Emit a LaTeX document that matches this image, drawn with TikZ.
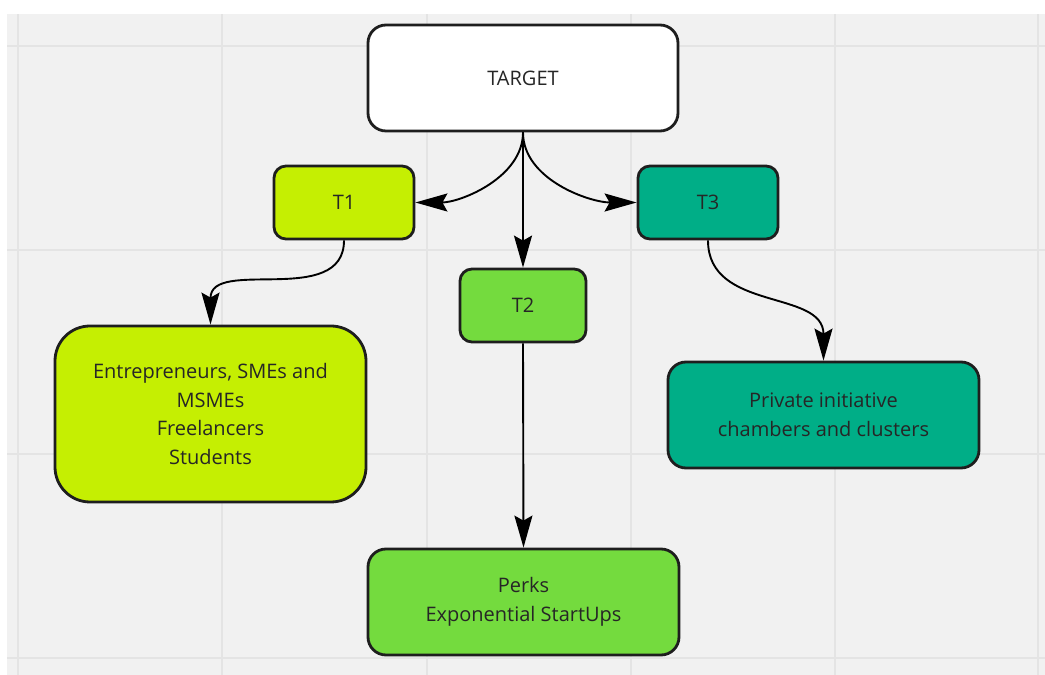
\documentclass[tikz,border=0pt]{standalone}
\usepackage{fontspec}
\setmainfont{Open Sans}
\usetikzlibrary{arrows.meta}
\definecolor{canvas}{HTML}{F1F1F1}
\definecolor{gridc}{HTML}{E4E4E4}
\definecolor{lime}{HTML}{C5EF02}
\definecolor{leaf}{HTML}{74DB3E}
\definecolor{teal}{HTML}{00AE87}
\definecolor{ink}{HTML}{262626}
\definecolor{edge}{HTML}{1E1E1E}
\tikzset{
  box/.style={draw=edge, line width=2.8pt, align=center, text=ink,
    font=\fontsize{20}{28.5}\selectfont, inner sep=0pt},
  link/.style={draw=black, line width=1.9pt,
    -{Stealth[length=32pt, width=18pt, inset=5pt]}},
}
\begin{document}
\begin{tikzpicture}[x=1pt, y=1pt]
  \useasboundingbox (0,0) rectangle (1045,675);
  \fill[white] (0,0) rectangle (1045,675);
  \fill[canvas] (7,0) rectangle (1045,661);
  % background grid
  \foreach \gx in {18,222,427,631,835,1038}
    \draw[gridc, line width=1.4pt] (\gx,0) -- (\gx,661);
  \foreach \gy in {629,425,221,17}
    \draw[gridc, line width=1.4pt] (7,\gy) -- (1045,\gy);

  % nodes
  \node[box, fill=white, rounded corners=18pt, minimum width=310pt, minimum height=106pt]
    (target) at (523,597) {TARGET};
  \node[box, fill=lime, rounded corners=12pt, minimum width=140pt, minimum height=73pt]
    (t1) at (344,472.5) {T1};
  \node[box, fill=leaf, rounded corners=12pt, minimum width=126pt, minimum height=73pt]
    (t2) at (523,369.5) {T2};
  \node[box, fill=teal, rounded corners=12pt, minimum width=140pt, minimum height=73pt]
    (t3) at (708,472.5) {T3};
  \node[box, fill=lime, rounded corners=35pt, minimum width=311pt, minimum height=176pt]
    (ent) at (210.5,261) {Entrepreneurs, SMEs and\\MSMEs\\Freelancers\\Students};
  \node[box, fill=teal, rounded corners=18pt, minimum width=311pt, minimum height=106pt]
    (priv) at (823.5,260) {Private initiative\\chambers and clusters};
  \node[box, fill=leaf, rounded corners=18pt, minimum width=311pt, minimum height=106pt]
    (perks) at (523.5,73) {Perks\\Exponential StartUps};

  % connectors
  \draw[link] (target.south) to[out=-90, in=0, looseness=0.9] (t1.east);
  \draw[link] (target.south) -- (t2.north);
  \draw[link] (target.south) to[out=-90, in=180, looseness=0.9] (t3.west);
  \draw[link] (t1.south) to[out=-90, in=90, looseness=1.1] (ent.north);
  \draw[link] (t2.south) -- (perks.north);
  \draw[link] (t3.south) to[out=-90, in=90, looseness=1.1] (priv.north);
\end{tikzpicture}
\end{document}
